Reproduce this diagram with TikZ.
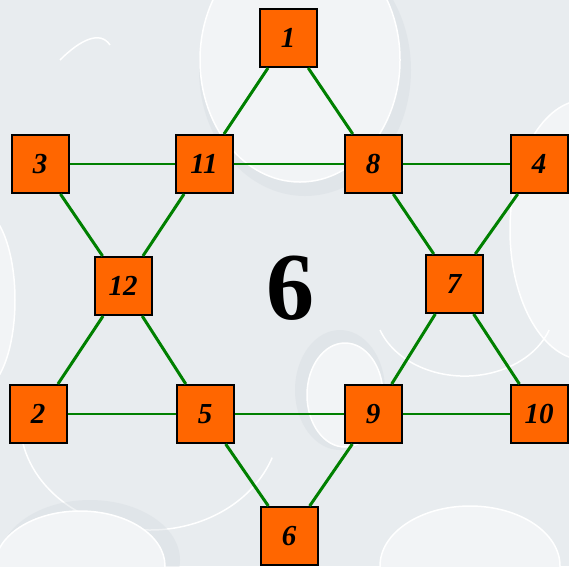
\documentclass[tikz,border=0pt]{standalone}
\usepackage{fontspec}
\setmainfont{Liberation Serif}
\definecolor{bgc}{RGB}{232,236,239}
\definecolor{bgl}{RGB}{242,244,246}
\definecolor{bgd}{RGB}{214,220,225}
\definecolor{boxc}{RGB}{255,102,0}
\definecolor{edgec}{RGB}{0,128,0}
\begin{document}
\begin{tikzpicture}[x=1pt,y=-1pt,
  numbox/.style={draw=black,line width=2pt,fill=boxc,minimum width=57pt,minimum height=58pt,inner sep=0pt,font=\fontsize{29}{29}\selectfont\bfseries\itshape},
  hline/.style={edgec,line width=2pt},
  dline/.style={edgec,line width=3pt},
  swirl/.style={draw=white,line width=1.5pt,fill=bgl}]
\fill[bgc] (0,0) rectangle (569,566);
\useasboundingbox (0,0) rectangle (569,566);
% background swirls
\begin{scope}
\clip (0,0) rectangle (569,566);
\fill[bgd,opacity=0.4] (305,70) ellipse (106 and 126);
\filldraw[swirl] (300,60) ellipse (100 and 122);
\filldraw[swirl] (585,230) ellipse (75 and 130);
\fill[bgd,opacity=0.4] (340,390) ellipse (45 and 60);
\filldraw[swirl] (345,395) ellipse (38 and 52);
\draw[white,line width=1.5pt] (20,420) arc (180:20:130 and 110);
\draw[white,line width=1.5pt] (380,330) arc (160:20:90 and 70);
\fill[bgd,opacity=0.4] (90,560) ellipse (90 and 60);
\filldraw[swirl] (80,566) ellipse (85 and 55);
\filldraw[swirl] (470,566) ellipse (90 and 60);
\draw[white,line width=1.5pt] (60,60) .. controls (80,40) and (100,30) .. (110,45);
\filldraw[swirl] (-20,300) ellipse (35 and 90);
\end{scope}
% nodes
\node[numbox] (n1) at (288,38) {1};
\node[numbox] (n3) at (40,164) {3};
\node[numbox] (n11) at (204,164) {11};
\node[numbox] (n8) at (373,164) {8};
\node[numbox] (n4) at (539,164) {4};
\node[numbox] (n12) at (123,286) {12};
\node[numbox] (n7) at (454,284) {7};
\node[numbox] (n2) at (38,414) {2};
\node[numbox] (n5) at (205,414) {5};
\node[numbox] (n9) at (373,414) {9};
\node[numbox] (n10) at (539,414) {10};
\node[numbox] (n6) at (289,536) {6};
\node[font=\fontsize{96}{96}\selectfont\bfseries] (center) at (290,288) {6};
% edges
\draw[hline] (n3) -- (n11);
\draw[hline] (n11) -- (n8);
\draw[hline] (n8) -- (n4);
\draw[hline] (n2) -- (n5);
\draw[hline] (n5) -- (n9);
\draw[hline] (n9) -- (n10);
\draw[dline] (n1) -- (n11);
\draw[dline] (n1) -- (n8);
\draw[dline] (n3) -- (n12);
\draw[dline] (n11) -- (n12);
\draw[dline] (n8) -- (n7);
\draw[dline] (n4) -- (n7);
\draw[dline] (n12) -- (n2);
\draw[dline] (n12) -- (n5);
\draw[dline] (n7) -- (n9);
\draw[dline] (n7) -- (n10);
\draw[dline] (n5) -- (n6);
\draw[dline] (n9) -- (n6);
\end{tikzpicture}
\end{document}
